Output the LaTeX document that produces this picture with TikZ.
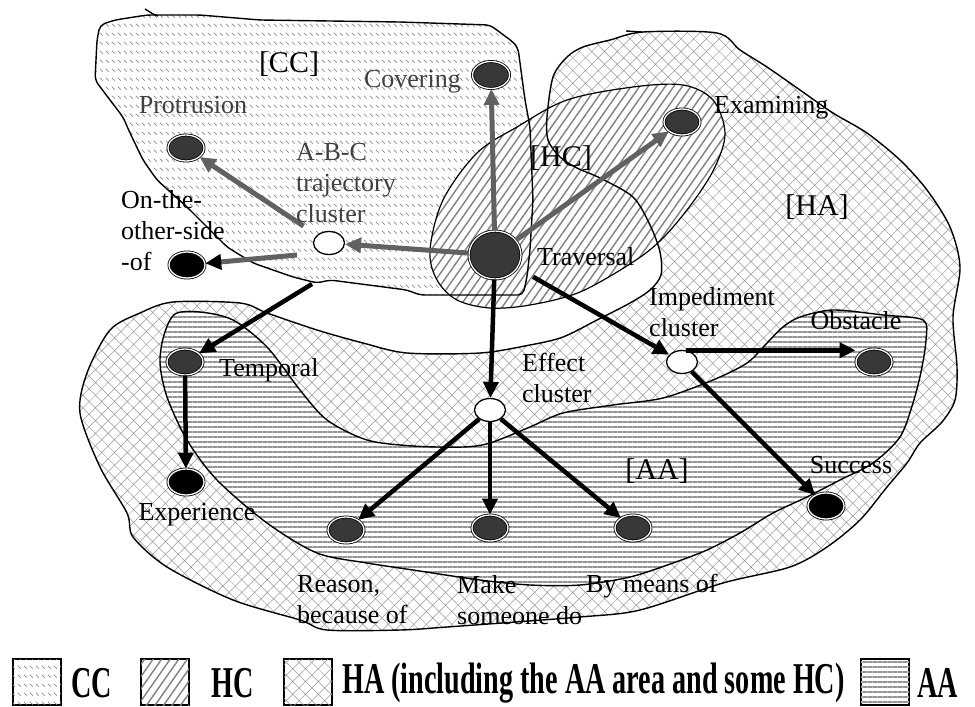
\documentclass[tikz,border=0pt]{standalone}
\usepackage{fontspec}
\setmainfont{Liberation Serif}
\newfontfamily\legendfont{Liberation Serif}[FakeStretch=0.64]
\usetikzlibrary{shapes.geometric,arrows.meta,patterns.meta}

\pgfdeclarepattern{
  name=ccdash,
  type=uncolored,
  bottom left={\pgfpoint{0pt}{0pt}},
  top right={\pgfpoint{5.5pt}{8.5pt}},
  tile size={\pgfpoint{5.5pt}{8.5pt}},
  code={
    \pgfsetlinewidth{0.7pt}
    \pgfpathmoveto{\pgfpoint{1pt}{5.5pt}}
    \pgfpathlineto{\pgfpoint{4pt}{2.5pt}}
    \pgfusepath{stroke}
  }
}

\tikzset{
  region/.style={draw=black, line width=1.4pt},
  ccfill/.style={fill=white, postaction={pattern=ccdash, pattern color=black!45}},
  hafill/.style={fill=white, postaction={pattern={Hatch[angle=45,distance=9pt,line width=0.5pt]}, pattern color=black!40}},
  aafill/.style={fill=white, postaction={pattern={Lines[angle=0,distance=5pt,line width=1.8pt]}, pattern color=black!42}},
  hcfill/.style={fill=white, postaction={pattern={Lines[angle=55,distance=7pt,line width=1.4pt]}, pattern color=black!50}},
  dnode/.style={ellipse, draw=black, line width=0.8pt, double=white, double distance=1.3pt, inner sep=0pt, minimum width=36pt, minimum height=26pt},
  pnode/.style={dnode, fill=black!78},
  bnode/.style={dnode, fill=black},
  onode/.style={ellipse, draw=black, line width=1.3pt, fill=white, inner sep=0pt, minimum width=31pt, minimum height=23pt},
  lbl/.style={font=\fontsize{26}{31}\selectfont, inner sep=0pt, align=left},
  glbl/.style={lbl, text=black!75},
  rlbl/.style={font=\fontsize{30}{34}\selectfont, inner sep=0pt},
  garr/.style={draw=black!62, line width=5pt, -{Triangle[length=16pt,width=15pt]}},
  barr/.style={draw=black, line width=4.5pt, -{Triangle[length=16pt,width=15pt]}},
  legbox/.style={draw=black, line width=1.5pt, minimum width=48pt, minimum height=46pt, inner sep=0pt},
  legtxt/.style={font={\legendfont\bfseries\fontsize{44}{48}\selectfont}, inner sep=0pt, anchor=west}
}

\begin{document}
\begin{tikzpicture}[x=1pt,y=-1pt]
\useasboundingbox (0,0) rectangle (975,707);

% HA region (with bottom lobe)
\path[hafill] plot[smooth cycle, tension=0.5] coordinates {
 (547,117) (553,77) (567,57) (583,47) (610,40) (643,32) (717,33) (740,50) (767,67)
 (800,90) (833,113) (867,133) (900,160) (927,190) (950,227) (960,267) (953,317)
 (957,367) (955,400) (942,422) (920,443) (907,463) (887,487) (860,520) (827,547)
 (790,567) (723,583) (640,610) (580,617) (447,627) (400,630) (327,630) (300,620)
 (233,600) (167,567) (133,537) (127,513) (100,467) (80,413) (87,373) (110,330)
 (140,313) (173,302) (240,303) (267,313) (317,330) (363,343) (407,353) (480,353)
 (530,345) (563,337) (597,320) (630,303) (650,290) (661,275) (660,252) (650,225)
 (633,197) (600,178) (577,168) (560,157) (548,140)};

% AA region
\path[aafill] plot[smooth cycle, tension=0.5] coordinates {
 (160,363) (164,335) (175,314) (200,312) (233,320) (267,347) (300,390) (327,420)
 (367,440) (413,446) (463,447) (490,443) (530,427) (563,413) (613,405) (663,398)
 (713,380) (747,363) (767,343) (783,327) (800,317) (833,310) (883,315) (923,320)
 (926,340) (921,372) (913,403) (900,437) (873,463) (840,480) (807,497) (773,513)
 (740,533) (707,550) (673,563) (630,577) (580,585) (530,585) (480,580) (413,570)
 (367,563) (317,553) (267,523) (217,480) (187,440) (167,397)};

% CC region
\path[ccfill, rounded corners=5pt] (100,25) -- (115,20) -- (147,15) -- (200,15) -- (260,20)
 -- (400,22) -- (490,25) -- (513,42) -- (518,48) -- (525,100) -- (530,127) -- (533,200)
 -- (530,250) -- (527,277) -- (523,295) -- (420,295) -- (407,290) -- (330,280) -- (317,283)
 -- (293,277) -- (253,263) -- (227,247) -- (207,227) -- (187,207) -- (157,180) -- (143,160)
 -- (130,133) -- (123,117) -- (110,100) -- (95,80) -- (97,40) -- cycle;

% HC ellipse
\path[hcfill] plot[smooth cycle, tension=0.55] coordinates {
 (430,250) (437,280) (457,300) (490,308) (530,305) (580,292) (633,262) (663,238)
 (693,202) (715,167) (725,133) (713,100) (683,85) (633,87) (567,100) (517,127)
 (477,153) (443,200)};

% outlines
\draw[region] plot[smooth cycle, tension=0.5] coordinates {
 (547,117) (553,77) (567,57) (583,47) (610,40) (643,32) (717,33) (740,50) (767,67)
 (800,90) (833,113) (867,133) (900,160) (927,190) (950,227) (960,267) (953,317)
 (957,367) (955,400) (942,422) (920,443) (907,463) (887,487) (860,520) (827,547)
 (790,567) (723,583) (640,610) (580,617) (447,627) (400,630) (327,630) (300,620)
 (233,600) (167,567) (133,537) (127,513) (100,467) (80,413) (87,373) (110,330)
 (140,313) (173,302) (240,303) (267,313) (317,330) (363,343) (407,353) (480,353)
 (530,345) (563,337) (597,320) (630,303) (650,290) (661,275) (660,252) (650,225)
 (633,197) (600,178) (577,168) (560,157) (548,140)};
\draw[region] plot[smooth cycle, tension=0.5] coordinates {
 (160,363) (164,335) (175,314) (200,312) (233,320) (267,347) (300,390) (327,420)
 (367,440) (413,446) (463,447) (490,443) (530,427) (563,413) (613,405) (663,398)
 (713,380) (747,363) (767,343) (783,327) (800,317) (833,310) (883,315) (923,320)
 (926,340) (921,372) (913,403) (900,437) (873,463) (840,480) (807,497) (773,513)
 (740,533) (707,550) (673,563) (630,577) (580,585) (530,585) (480,580) (413,570)
 (367,563) (317,553) (267,523) (217,480) (187,440) (167,397)};
\draw[region, rounded corners=5pt] (100,25) -- (115,20) -- (147,15) -- (200,15) -- (260,20)
 -- (400,22) -- (490,25) -- (513,42) -- (518,48) -- (525,100) -- (530,127) -- (533,200)
 -- (530,250) -- (527,277) -- (523,295) -- (420,295) -- (407,290) -- (330,280) -- (317,283)
 -- (293,277) -- (253,263) -- (227,247) -- (207,227) -- (187,207) -- (157,180) -- (143,160)
 -- (130,133) -- (123,117) -- (110,100) -- (95,80) -- (97,40) -- cycle;
\draw[draw=black, line width=1.2pt] plot[smooth cycle, tension=0.55] coordinates {
 (430,250) (437,280) (457,300) (490,308) (530,305) (580,292) (633,262) (663,238)
 (693,202) (715,167) (725,133) (713,100) (683,85) (633,87) (567,100) (517,127)
 (477,153) (443,200)};
\draw[region] (145,9) -- (153,14) -- (158,16);
\draw[region] (626,31) -- (642,32);

% nodes
\node[pnode, minimum width=37pt, minimum height=27pt] (cov) at (491,75) {};
\node[pnode] (pro) at (186,148) {};
\node[onode] (abc) at (329,243) {};
\node[bnode] (oot) at (187,265) {};
\node[pnode, minimum width=52pt, minimum height=48pt] (trav) at (495,255) {};
\node[pnode] (exa) at (682,122) {};
\node[onode] (imp) at (682,362) {};
\node[pnode] (obs) at (874,362) {};
\node[pnode] (tem) at (185,362) {};
\node[bnode] (exp) at (186,482) {};
\node[onode] (eff) at (490,410) {};
\node[pnode] (rea) at (346,530) {};
\node[pnode] (mak) at (490,528) {};
\node[pnode] (bym) at (633,528) {};
\node[bnode] (suc) at (826,506) {};

\coordinate (abcstart) at (312,284);
\coordinate (ootstart) at (297,255);

% arrows
\draw[garr] (trav) -- (cov);
\draw[garr] (trav) -- (exa);
\draw[garr] (trav) -- (abc);
\draw[garr, shorten <=16pt] (abc) -- (pro);
\draw[draw=black!62, line width=5pt, -{Triangle[length=16pt,width=15pt,color=black]}] (ootstart) -- (oot);
\draw[barr] (abcstart) -- (tem);
\draw[barr] (trav) -- (eff);
\draw[barr, shorten <=18pt] (trav) -- (imp);
\draw[barr] (imp.70) -- (imp.70 -| obs.west);
\draw[barr] (imp) -- (suc);
\draw[barr] (tem) -- (exp);
\draw[barr] (eff) -- (rea);
\draw[barr] (eff) -- (mak);
\draw[barr] (eff) -- (bym);

% labels
\node[glbl, anchor=east] (lcov) at (461,82) {Covering};
\node[glbl] (lpro) at (193,105) {Protrusion};
\node[glbl, anchor=west] (labc) at (296,183) {A-B-C\\trajectory\\cluster};
\node[lbl, anchor=west] (loot) at (121,231) {On-the-\\other-side\\-of};
\node[lbl, anchor=west] (ltrav) at (537,257) {Traversal};
\node[lbl, anchor=west] (lexa) at (714,108) {Examining};
\node[lbl, anchor=west] (limp) at (649,312) {Impediment\\cluster};
\node[lbl] (lobs) at (856,321) {Obstacle};
\node[lbl, anchor=west] (ltem) at (219,370) {Temporal};
\node[lbl] (lexp) at (197,515) {Experience};
\node[lbl, anchor=west] (leff) at (522,378) {Effect\\cluster};
\node[lbl, anchor=west] (lrea) at (297,600) {Reason,\\because of};
\node[lbl, anchor=west] (lmak) at (457,600) {Make\\someone do};
\node[lbl, anchor=west] (lbym) at (586,586) {By means of};
\node[lbl] (lsuc) at (851,465) {Success};

\node[rlbl] (rcc) at (289,64) {[CC]};
\node[rlbl] (rhc) at (561,158) {[HC]};
\node[rlbl] (rha) at (817,207) {[HA]};
\node[rlbl] (raa) at (657,471) {[AA]};

% legend
\node[legbox, ccfill] (bcc) at (37,682) {};
\node[legtxt] (tcc) at (71,683) {CC};
\node[legbox, hcfill] (bhc) at (165,682) {};
\node[legtxt] (thc) at (211,683) {HC};
\node[legbox, hafill] (bha) at (308,682) {};
\node[legtxt] (tha) at (342,683) {HA (including the AA area and some HC)};
\node[legbox, aafill] (baa) at (885,682) {};
\node[legtxt] (taa) at (917,683) {AA};
\end{tikzpicture}
\end{document}
